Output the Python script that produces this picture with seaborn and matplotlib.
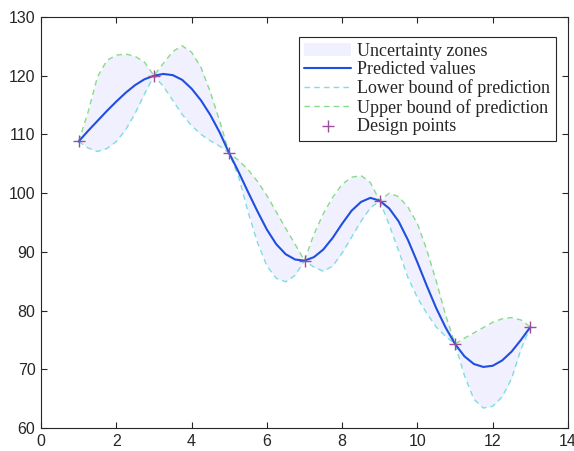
import seaborn as sns
import matplotlib.pyplot as plt
import numpy as np
import pandas as pd

x_grid = [1.00, 1.25, 1.50, 1.75, 2.00, 2.25, 2.50, 2.75, 3.00, 3.25, 3.50, 3.75,
          4.00, 4.25, 4.50, 4.75, 5.00, 5.25, 5.50, 5.75, 6.00, 6.25, 6.50, 6.75,
          7.00, 7.25, 7.50, 7.75, 8.00, 8.25, 8.50, 8.75, 9.00, 9.25, 9.50, 9.75,
          10.00, 10.25, 10.50, 10.75, 11.00, 11.25, 11.50, 11.75, 12.00, 12.25,
          12.50, 12.75, 13.00]

predicted = [108.8, 110.6, 112.3, 114.0, 115.6, 117.1, 118.4, 119.4, 120.0, 120.3,
             120.1, 119.3, 117.8, 115.8, 113.3, 110.3, 106.8, 103.6, 100.2, 96.9,
             93.8, 91.3, 89.6, 88.7, 88.5, 89.1, 90.4, 92.4, 94.8, 97.0, 98.5, 99.2,
             98.7, 97.4, 95.2, 92.0, 88.2, 84.2, 80.4, 77.1, 74.3, 72.2, 70.9, 70.4,
             70.6, 71.5, 73.0, 75.0, 77.2]

upper = [108.8, 113.8, 119.8, 122.6, 123.5, 123.7, 123.3, 122.3, 120.0, 122.1,
         124.1, 125.1, 124.0, 121.4, 117.2, 112.2, 106.8, 105.6, 104.0, 102.0,
         99.6, 96.8, 94.0, 91.3, 88.5, 93.0, 96.5, 99.3, 101.5, 102.7, 103.0, 101.8,
         98.7, 100.0, 99.4, 97.6, 94.8, 90.3, 85.0, 79.2, 74.3, 75.3, 76.2, 77.1,
         78.0, 78.6, 78.8, 78.4, 77.2]

lower = [108.8, 107.7, 107.1, 107.6, 108.8, 110.8, 113.6, 116.9, 120.0, 118.2,
         115.8, 113.4, 111.5, 110.0, 108.9, 108.0, 106.8, 102.8, 96.8, 91.6,
         87.6, 85.5, 84.9, 86.0, 88.5, 87.4, 86.7, 87.6, 89.8, 92.5, 95.2, 97.5,
         98.7, 94.6, 90.2, 85.6, 82.2, 79.5, 77.2, 75.6, 74.3, 68.9, 64.9, 63.4,
         63.7, 65.3, 68.4, 73.4, 77.2]

design_x = [1, 3, 5, 7, 9, 11, 13]
design_y = [108.8, 120.0, 106.8, 88.5, 98.7, 74.3, 77.2]

df = pd.DataFrame({'x': x_grid, 'pred': predicted, 'up': upper, 'low': lower})
pts = pd.DataFrame({'x': design_x, 'y': design_y})

sns.set_style('white')
plt.rcParams['font.family'] = ['Liberation Sans', 'DejaVu Sans']

fig = plt.figure(figsize=(5.74, 4.51), dpi=100)
ax = fig.add_axes([41 / 574, 1 - 428 / 451, 527 / 574, 411 / 451])

# shaded zone between bounds
ax.fill_between(df['x'], df['low'], df['up'], color='#f1f0fe', linewidth=0,
                label='Uncertainty zones', zorder=1)
sns.lineplot(data=df, x='x', y='pred', ax=ax, color='#1f4fe0', linewidth=1.5,
             label='Predicted values', zorder=4)
sns.lineplot(data=df, x='x', y='low', ax=ax, color='#7fdde0', linewidth=1.0,
             dashes=(4, 3), label='Lower bound of prediction', zorder=3)
sns.lineplot(data=df, x='x', y='up', ax=ax, color='#86dc8a', linewidth=1.0,
             dashes=(4, 3), label='Upper bound of prediction', zorder=3)
sns.scatterplot(data=pts, x='x', y='y', ax=ax, marker='+', s=70, color='#9b4f9b',
                linewidth=1.0, label='Design points', zorder=5)

ax.set_xlim(0, 14)
ax.set_ylim(60, 130)
ax.set_xticks(np.arange(0, 15, 2))
ax.set_yticks(np.arange(60, 131, 10))
ax.set_xlabel('')
ax.set_ylabel('')

for s in ax.spines.values():
    s.set_color('#262626')
    s.set_linewidth(0.8)
ax.tick_params(direction='in', length=4, width=0.8, color='#262626',
               labelsize=11.5, labelcolor='#262626', top=True, right=True,
               bottom=True, left=True, pad=4)

leg = ax.legend(loc='upper right', bbox_to_anchor=(0.977, 0.951), borderaxespad=0,
                frameon=True, fancybox=False, framealpha=1, edgecolor='#262626',
                prop={'family': 'Liberation Serif', 'size': 13},
                handlelength=2.6, handletextpad=0.35, labelspacing=0.08,
                borderpad=0.3)
leg.get_frame().set_linewidth(0.8)

fig.savefig('out.png', dpi=100)
